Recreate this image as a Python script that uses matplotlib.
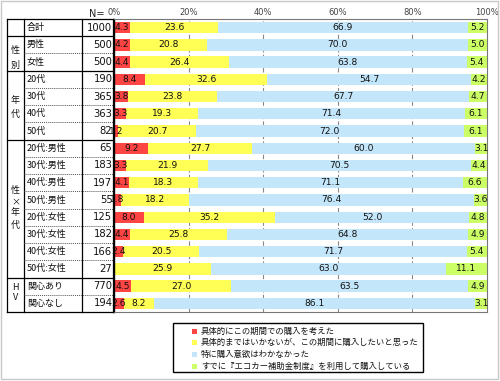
import matplotlib
matplotlib.use("Agg")
import matplotlib.pyplot as plt
from matplotlib.patches import Rectangle
import numpy as np

plt.rcParams['font.family'] = ['Noto Sans CJK JP', 'DejaVu Sans']

labels = ["合計", "男性", "女性", "20代", "30代", "40代", "50代",
          "20代:男性", "30代:男性", "40代:男性", "50代:男性",
          "20代:女性", "30代:女性", "40代:女性", "50代:女性",
          "関心あり", "関心なし"]
n_values = [1000, 500, 500, 190, 365, 363, 82, 65, 183, 197, 55, 125, 182, 166, 27, 770, 194]
s_consider = [4.3, 4.2, 4.4, 8.4, 3.8, 3.3, 1.2, 9.2, 3.3, 4.1, 1.8, 8.0, 4.4, 2.4, 0.0, 4.5, 2.6]
s_want = [23.6, 20.8, 26.4, 32.6, 23.8, 19.3, 20.7, 27.7, 21.9, 18.3, 18.2, 35.2, 25.8, 20.5, 25.9, 27.0, 8.2]
s_none = [66.9, 70.0, 63.8, 54.7, 67.7, 71.4, 72.0, 60.0, 70.5, 71.1, 76.4, 52.0, 64.8, 71.7, 63.0, 63.5, 86.1]
s_using = [5.2, 5.0, 5.4, 4.2, 4.7, 6.1, 6.1, 3.1, 4.4, 6.6, 3.6, 4.8, 4.9, 5.4, 11.1, 4.9, 3.1]
groups = ["", "性別", "年代", "性×年代", "HV"]
group_sizes = [1, 2, 4, 8, 2]
legend_labels = ["具体的にこの期間での購入を考えた",
                 "具体的まではいかないが、この期間に購入したいと思った",
                 "特に購入意欲はわかなかった",
                 "すでに『エコカー補助金制度』を利用して購入している"]
colors = ["#ff4444", "#ffff55", "#c4e6fb", "#ccff66"]
xticks = [0, 20, 40, 60, 80, 100]

W, H = 500, 381
fig = plt.figure(figsize=(W / 100, H / 100), dpi=100)

def fx(px):
    return px / W

def fy(py):
    return 1 - py / H

top, bot = 19, 312
ax = fig.add_axes([fx(114), fy(bot), fx(487) - fx(114), fy(top) - fy(bot)])
nrows = len(labels)
y = np.arange(nrows)
series = [s_consider, s_want, s_none, s_using]
left = np.zeros(nrows)
for vals, c in zip(series, colors):
    vals = np.array(vals)
    ax.barh(y, vals, left=left, height=0.66, color=c, zorder=2)
    for i, v in enumerate(vals):
        if v > 0:
            ax.text(left[i] + v / 2, i, f"{v:.1f}", ha='center', va='center',
                    fontsize=6.6, color='#111111', zorder=3, family='DejaVu Sans')
    left = left + vals
ax.set_xlim(0, 100)
ax.set_ylim(nrows - 0.5, -0.5)
ax.set_yticks([])
ax.set_xticks([])
for xt in xticks[1:-1]:
    ax.axvline(xt, color='#888888', lw=0.8, ls=(0, (4, 2)), zorder=1)
for sp in ['top', 'bottom', 'right']:
    ax.spines[sp].set_color('#777777')
    ax.spines[sp].set_linewidth(0.8)
ax.spines['left'].set_color('black')
ax.spines['left'].set_linewidth(1.0)
for xt in xticks:
    ax.text(xt, -0.62, f"{xt}%", ha='center', va='bottom', fontsize=6,
            color='#444444', family='DejaVu Sans')
fig.text(fx(97), fy(14), "N=", ha='center', va='center', fontsize=7, color='#222222',
         family='DejaVu Sans')

# table
tax = fig.add_axes([fx(7), fy(bot), fx(114) - fx(7), fy(top) - fy(bot)])
tax.set_xlim(7, 114)
tax.set_ylim(nrows - 0.5, -0.5)
tax.axis('off')
c0, c1, c2, c3 = 7, 24, 82, 113.5
for xv in [c0, c1, c2, c3]:
    tax.plot([xv, xv], [-0.5, nrows - 0.5], color='black', lw=0.9, clip_on=False)
tax.plot([c0, c3], [-0.5, -0.5], color='black', lw=0.9, clip_on=False)
# pixel y centres of the stacked group-label characters (layout)
group_char_y = [[], [50, 65], [101, 114], [191, 202, 213, 225], [288, 298]]
r = 0
for gname, cnt, cys in zip(groups, group_sizes, group_char_y):
    start = r - 0.5
    end = r + cnt - 0.5
    tax.plot([c0, c3], [end, end], color='black', lw=0.9, clip_on=False)
    for k in range(1, cnt):
        tax.plot([c1, c3], [start + k, start + k], color='#555555', lw=0.7,
                 ls=(0, (1, 1)), clip_on=False)
    for ch, cy in zip(gname, cys):
        fig.text(fx(15.5), fy(cy), ch, ha='center', va='center', fontsize=6.5,
                 color='#111111')
    r += cnt
for i, (lab, n) in enumerate(zip(labels, n_values)):
    tax.text(c1 + 3, i, lab, ha='left', va='center', fontsize=6.5, color='#111111')
    tax.text(c3 - 1.0, i, str(n), ha='right', va='center', fontsize=7.2, color='#111111',
             family='DejaVu Sans')

# legend
lx0, ly0, lx1, ly1 = 173, 323, 423, 372
fig.patches.append(Rectangle((fx(lx0), fy(ly1)), fx(lx1) - fx(lx0), fy(ly0) - fy(ly1),
                             transform=fig.transFigure, fill=False, edgecolor='black', lw=1.0))
for k, (lab, c) in enumerate(zip(legend_labels, colors)):
    yy = 331 + k * 11.8
    fig.patches.append(Rectangle((fx(192), fy(yy + 2.5)), fx(5), fy(0) - fy(5),
                                 transform=fig.transFigure, facecolor=c, edgecolor='none'))
    fig.text(fx(201), fy(yy), lab, ha='left', va='center', fontsize=6, color='#111111')

# outer border
fig.patches.append(Rectangle((fx(1), fy(379)), fx(497), fy(1) - fy(379),
                             transform=fig.transFigure, fill=False, edgecolor='#c8c8c8', lw=1.0))

fig.savefig("out.png", dpi=100)
